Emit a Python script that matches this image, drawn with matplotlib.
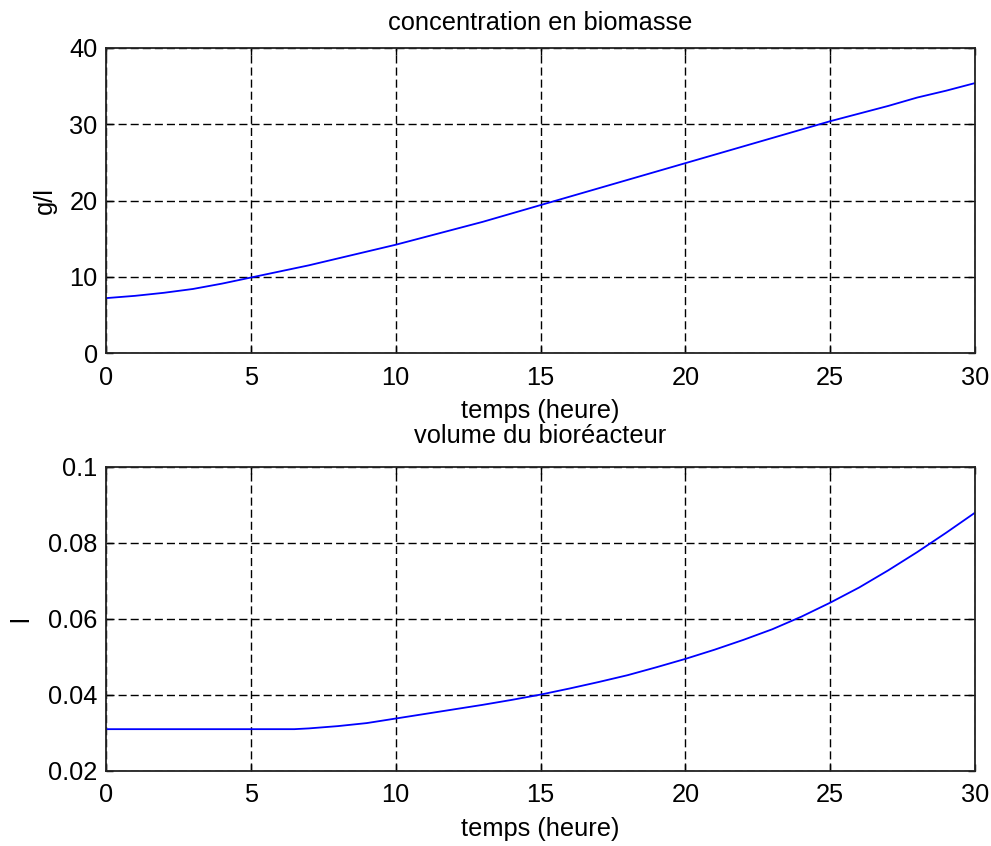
import matplotlib
matplotlib.use("Agg")
import matplotlib.pyplot as plt

# Biomass concentration (g/l) versus time (hours)
t_bio = [0, 1, 2, 3, 4, 5, 6, 7, 8, 9, 10, 11, 12, 13, 14, 15, 16, 17, 18, 19,
         20, 21, 22, 23, 24, 25, 26, 27, 28, 29, 30]
biomass = [7.2, 7.5, 7.9, 8.4, 9.1, 9.9, 10.7, 11.5, 12.4, 13.3, 14.2, 15.2,
           16.2, 17.2, 18.3, 19.4, 20.5, 21.6, 22.7, 23.8, 24.9, 26.0, 27.1,
           28.2, 29.3, 30.4, 31.4, 32.4, 33.5, 34.4, 35.4]

# Bioreactor volume (l) versus time (hours)
t_vol = [0, 6.5, 7, 8, 9, 10, 11, 12, 13, 14, 15, 16, 17, 18, 19, 20, 21, 22,
         23, 24, 25, 26, 27, 28, 29, 30]
volume = [0.0310, 0.0310, 0.0312, 0.0318, 0.0326, 0.0338, 0.0350, 0.0362,
          0.0374, 0.0387, 0.0401, 0.0417, 0.0434, 0.0452, 0.0473, 0.0495,
          0.0519, 0.0545, 0.0573, 0.0606, 0.0643, 0.0683, 0.0728, 0.0776,
          0.0827, 0.0880]

x_ticks = [0, 5, 10, 15, 20, 25, 30]
bio_ticks = [0, 10, 20, 30, 40]
vol_ticks = [0.02, 0.04, 0.06, 0.08, 0.1]
vol_ticklabels = ["0.02", "0.04", "0.06", "0.08", "0.1"]

FS = 18.3
plt.rcParams["font.family"] = ["Liberation Sans", "DejaVu Sans"]
plt.rcParams["font.size"] = FS

fig = plt.figure(figsize=(9.91, 8.46), dpi=100)
ax1 = fig.add_axes([0.107, 0.5827, 0.877, 0.3606])
ax2 = fig.add_axes([0.107, 0.0887, 0.877, 0.3593])


def style(ax):
    ax.grid(True, color="black", linestyle=(0, (5.8, 2.9)), linewidth=1.0)
    ax.tick_params(direction="in", top=True, right=True, length=5,
                   width=1.0, colors="black", labelsize=FS)
    ax.tick_params(axis="x", pad=9)
    ax.tick_params(axis="y", pad=6)
    for s in ax.spines.values():
        s.set_linewidth(1.3)
        s.set_color("#222222")
    ax.set_xlim(0, 30)
    ax.set_xticks(x_ticks)
    ax.set_xlabel("temps (heure)", labelpad=7)


ax1.plot(t_bio, biomass, color="#0000ff", linewidth=1.3)
style(ax1)
ax1.set_ylim(0, 40)
ax1.set_yticks(bio_ticks)
ax1.set_ylabel("g/l")
ax1.yaxis.label.set_verticalalignment("center")
ax1.yaxis.set_label_coords(-0.070, 0.5)
ax1.set_title("concentration en biomasse", fontsize=FS, pad=13)

ax2.plot(t_vol, volume, color="#0000ff", linewidth=1.3)
style(ax2)
ax2.set_ylim(0.02, 0.1)
ax2.set_yticks(vol_ticks)
ax2.set_yticklabels(vol_ticklabels)
ax2.set_ylabel("l")
ax2.yaxis.label.set_verticalalignment("center")
ax2.yaxis.set_label_coords(-0.098, 0.5)
ax2.set_title("volume du bioréacteur", fontsize=FS, pad=17)

fig.savefig("out.png", dpi=100, facecolor="white")
